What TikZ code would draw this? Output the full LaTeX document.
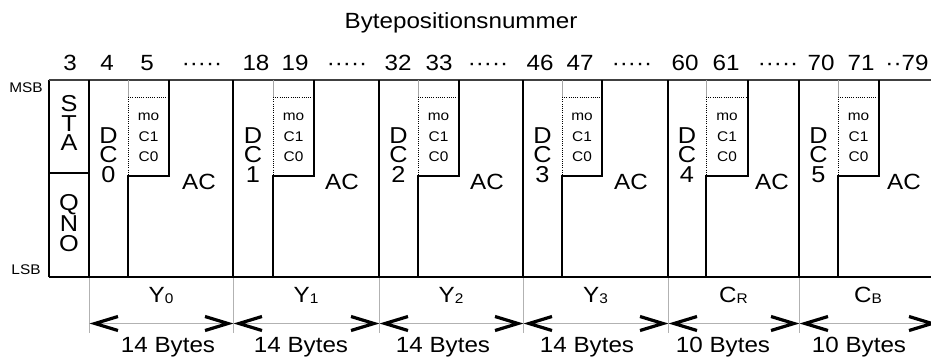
\documentclass[tikz,border=0pt]{standalone}
\usepackage{fontspec}
\setmainfont{Liberation Sans}[FakeStretch=1.1]
\usetikzlibrary{arrows.meta}
\newcommand\subidx[1]{\raisebox{-1pt}{\fontsize{14}{14}\selectfont #1}}
\begin{document}
\begin{tikzpicture}[x=1pt,y=-1pt,
  big/.style={font=\fontsize{22}{22}\selectfont, inner sep=0pt},
  stack/.style={font=\fontsize{23}{19.5}\selectfont, align=center, inner sep=0pt},
  field/.style={font=\fontsize{14}{20.5}\selectfont, align=center, inner sep=0pt, anchor=north},
  tag/.style={font=\fontsize{14}{14}\selectfont, inner sep=0pt},
  frame/.style={line width=1.3pt, black},
  topline/.style={line width=2pt, black!75},
  faint/.style={line width=0.8pt, black!35},
  dots/.style={line width=0.9pt, black, dash pattern=on 0.9pt off 1.3pt},
  guide/.style={line width=0.8pt, black!30},
  chev/.tip={Straight Barb[length=23pt,width=14pt,line width=3.2pt,black]},
]
\useasboundingbox (0,0) rectangle (931,360);
\clip (0,0) rectangle (931,360);

% heading and byte numbers
\node[big, anchor=base] (title) at (461,28) {Bytepositionsnummer};
\foreach \t/\x [count=\k] in {3/70, 4/107, 5/147, {·····}/202,
    18/256, 19/295, {·····}/347, 32/398, 33/439, {·····}/488,
    46/540, 47/580, {·····}/632, 60/685, 61/726, {·····}/778,
    70/821, 71/861, {··79}/907}
  \node[big, anchor=base] (num\k) at (\x,70) {\t};

% bit order markers
\node[tag] (msb) at (26,88) {MSB};
\node[tag] (lsb) at (26,270) {LSB};

% outer frame
\draw[frame] (49,277) -- (49,80);
\draw[topline] (48.5,80) -- (940,80);
\draw[frame] (48.5,277) -- (940,277);

% STA / QNO column
\draw[frame] (49,173) -- (89,173);
\node[stack] (sta) at (69,123) {S\\T\\A};
\node[stack] (qno) at (69,223) {Q\\N\\O};

% the six component blocks: start / DC edge / mode edge / AC x / index / label / bytes x / bytes / end
\foreach \s/\d/\m/\a/\i/\lab/\bx/\by/\e in {
    89/128/169/199/0/{Y\subidx{0}}/168/{14 Bytes}/233,
    233/273/314/342/1/{Y\subidx{1}}/301/{14 Bytes}/379,
    379/418/459/487/2/{Y\subidx{2}}/443/{14 Bytes}/523,
    523/562/602/631/3/{Y\subidx{3}}/587/{14 Bytes}/668,
    668/706/748/772/4/{C\subidx{R}}/723/{10 Bytes}/799,
    799/838/879/904/5/{C\subidx{B}}/859/{10 Bytes}/937} {
  % block separator
  \draw[frame] (\s,80) -- (\s,277);
  % DC column and mode/C1/C0 field
  \draw[faint] (\d,80) -- (\d,97);
  \draw[dots] (\d,97) -- (\d,176);
  \draw[dots] (\d,97) -- (\m,97);
  \draw[frame] (\d,277) -- (\d,176) -- (\m,176) -- (\m,80);
  \node[stack] (dc\i) at ({(\s+\d)/2},155) {D\\C\\\i};
  \node[field] (mode\i) at ({(\d+\m)/2},113) {mo\\C1\\C0};
  \node[big] (ac\i) at (\a,182) {AC};
  % label and byte count below
  \coordinate (tk\i) at (\s+0.5,278);
  \coordinate (tb\i) at (\s+0.5,333);
  \draw[guide] (tk\i) -- (tb\i);
  \node[big, anchor=base] (lab\i) at ({(\s+\e)/2},302) {\lab};
  \coordinate (da\i) at (\s+0.5,323.5);
  \coordinate (db\i) at (\e+0.5,323.5);
  \draw[guide, {chev}-{chev}] (da\i) -- (db\i);
  \node[big, anchor=base] (bytes\i) at (\bx,352) {\by};
}
\end{tikzpicture}
\end{document}
